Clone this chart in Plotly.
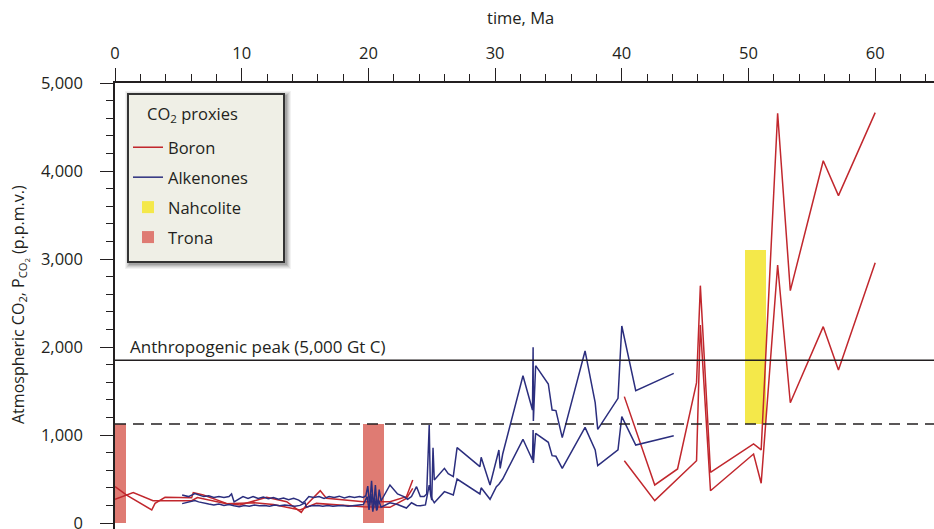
import plotly.graph_objects as go

# ---------------- data (age in Ma, CO2 in ppmv) ----------------
boron_hi_age = [0, 0.92, 2.9, 3.16, 3.95, 6.05, 6.18, 6.97, 8.8, 9.87, 11.97, 13.55, 14.7, 15.1,
                16.2, 16.7, 19.6, 21.7, 23.0, 23.5, None,
                40.2, 42.6, 44.4, 45.9, 46.2, 47.0, 50.4, 51.0, 52.3, 53.3, 55.9, 57.1, 60.0]
boron_hi_co2 = [413, 318, 148, 223, 292, 288, 345, 318, 223, 205, 292, 242, 120, 205,
                367, 280, 242, 242, 299, 489, None,
                1436, 432, 614, 1595, 2697, 576, 898, 830, 4656, 2640, 4117, 3720, 4663]

boron_lo_age = [0, 1.44, 3.0, 6.05, 6.5, 8.8, 11.0, 12.5, 14.6, 15.9, 19.6, 21.7, 23.0, 23.5, None,
                40.2, 42.6, 45.9, 46.2, 47.0, 50.4, 51.0, 52.3, 53.3, 55.9, 57.1, 60.0]
boron_lo_co2 = [269, 345, 253, 253, 290, 220, 230, 210, 148, 223, 186, 178, 280, 394, None,
                708, 254, 708, 2250, 367, 784, 451, 2932, 1367, 2231, 1739, 2958]

alk_hi_age = [5.3, 5.8, 6.3, 6.6, 7.0, 7.4, 7.8, 8.2, 8.6, 9.0, 9.2, 9.4, 9.8, 10.1, 10.5, 10.9,
              11.3, 11.7, 12.1, 12.5, 12.9, 13.3, 13.7, 14.1, 14.5, 14.8, 15.0, 15.3, 15.7, 16.1,
              16.5, 16.9, 17.3, 17.7, 18.1, 18.5, 18.9, 19.3, 19.6, 19.8, 19.95, 20.1, 20.25,
              20.4, 20.55, 20.7, 20.85, 21.0, 21.7, 22.3, 22.8, 23.1, 23.4, 23.8, 24.1, 24.4,
              24.6, 24.8, 24.9, 25.0, 25.1, 25.2, 26.0, 26.3, 26.7, 27.0, 28.8, 28.9, 29.6,
              30.1, 30.3, 30.4, 30.6, 32.2, 32.95, 33.0, 33.02, 33.2, 34.2, 34.5, 34.8, 35.3,
              37.1, 37.9, 38.1, 39.7, 40.0, 41.1, 44.1]
alk_hi_co2 = [318, 300, 335, 320, 300, 310, 290, 300, 290, 300, 330, 240, 280, 300, 280, 300,
              280, 295, 275, 290, 270, 285, 265, 280, 260, 230, 250, 300, 290, 300,
              280, 300, 290, 305, 285, 300, 290, 300, 290, 310, 420, 200, 480,
              160, 430, 150, 380, 250, 432, 330, 300, 270, 300, 413, 300, 300,
              330, 1114, 330, 260, 856, 489, 621, 560, 527, 856, 640, 746, 432,
              716, 830, 620, 784, 1674, 1284, 1996, 1159, 1788, 1580, 1284, 1277, 970,
              1955, 1368, 1064, 1417, 2239, 1504, 1701]

alk_lo_age = [5.3, 5.8, 6.3, 6.6, 7.0, 7.4, 7.8, 8.2, 8.6, 9.0, 9.4, 9.8, 10.2, 10.6, 11.0,
              11.4, 11.8, 12.2, 12.6, 13.0, 13.4, 13.8, 14.2, 14.6, 15.0, 15.1, 15.5, 16.0,
              16.4, 16.8, 17.2, 17.6, 18.0, 18.4, 18.8, 19.2, 19.6, 19.9, 20.05, 20.2, 20.35,
              20.5, 20.65, 20.8, 21.0, 21.7, 22.3, 23.0, 23.4, 23.8, 24.1, 24.5, 24.8, 25.0,
              25.2, 26.0, 26.7, 27.0, 28.8, 28.9, 29.6, 30.1, 30.3, 30.6, 32.2, 32.95, 33.0,
              33.02, 33.2, 34.2, 34.5, 34.8, 35.3, 37.1, 37.9, 38.1, 39.7, 40.0, 41.1, 44.1]
alk_lo_co2 = [220, 235, 255, 240, 225, 215, 205, 215, 200, 210, 195, 185, 200, 190, 205,
              195, 200, 190, 205, 195, 205, 200, 190, 200, 230, 180, 195, 200,
              190, 200, 190, 195, 200, 190, 195, 200, 210, 300, 150, 330, 130,
              280, 140, 260, 180, 230, 210, 170, 230, 200, 195, 205, 430, 280,
              230, 356, 318, 500, 330, 400, 269, 413, 440, 500, 951, 716, 1057,
              682, 1019, 917, 765, 758, 621, 1087, 830, 651, 830, 1208, 886, 992]

trona_start = [0.0, 19.6]
trona_end = [0.87, 21.2]
trona_top = [1125, 1125]

nahcolite_start = [49.7]
nahcolite_end = [51.4]
nahcolite_low = [1125]
nahcolite_high = [3100]

anthropogenic_peak = 1850
reference_level = 1125

x_ticks = [0, 10, 20, 30, 40, 50, 60]
y_ticks = [0, 1000, 2000, 3000, 4000, 5000]

# ---------------- colours / layout ----------------
RED = "#c1272d"
BLUE = "#2b2e7e"
TRONA = "#df7b73"
NAHC = "#f4e84a"
INK = "#231f20"
FONT = "Open Sans"
FS = 16.5

W, H = 934, 529
L, R, T, B = 115, 0, 83, 0
PW, PH = W - L - R, H - T - B


def px_x(px):
    return (px - L) / PW


def px_y(py):
    return (H - B - py) / PH


fig = go.Figure()

fig.add_trace(go.Bar(
    x=[(a + b) / 2 for a, b in zip(trona_start, trona_end)],
    width=[b - a for a, b in zip(trona_start, trona_end)],
    y=trona_top, base=[0] * len(trona_top),
    marker=dict(color=TRONA, line=dict(width=0)),
    name="Trona", legendrank=4, legendgroup="d"))

fig.add_trace(go.Bar(
    x=[(a + b) / 2 for a, b in zip(nahcolite_start, nahcolite_end)],
    width=[b - a for a, b in zip(nahcolite_start, nahcolite_end)],
    y=[h - l for h, l in zip(nahcolite_high, nahcolite_low)], base=nahcolite_low,
    marker=dict(color=NAHC, line=dict(width=0)),
    name="Nahcolite", legendrank=3, legendgroup="c"))

line_kw = dict(mode="lines", connectgaps=False)
fig.add_trace(go.Scatter(x=boron_hi_age, y=boron_hi_co2, name="Boron",
                         line=dict(color=RED, width=1.5),
                         legendrank=1, legendgroup="a", **line_kw))
fig.add_trace(go.Scatter(x=boron_lo_age, y=boron_lo_co2, name="Boron", showlegend=False,
                         line=dict(color=RED, width=1.5),
                         legendgroup="a", **line_kw))
fig.add_trace(go.Scatter(x=alk_hi_age, y=alk_hi_co2, name="Alkenones",
                         line=dict(color=BLUE, width=1.5),
                         legendrank=2, legendgroup="b", **line_kw))
fig.add_trace(go.Scatter(x=alk_lo_age, y=alk_lo_co2, name="Alkenones", showlegend=False,
                         line=dict(color=BLUE, width=1.5),
                         legendgroup="b", **line_kw))

shapes = []
# horizontal reference lines
shapes.append(dict(type="line", xref="paper", yref="y", x0=0, x1=1,
                   y0=anthropogenic_peak, y1=anthropogenic_peak,
                   line=dict(color=INK, width=1.5), layer="above"))
shapes.append(dict(type="line", xref="paper", yref="y", x0=0, x1=1,
                   y0=reference_level, y1=reference_level,
                   line=dict(color=INK, width=1.5, dash="11px,7px"), layer="above"))

# legend box with soft shadow
bx0, bx1, by0, by1 = 128, 284, 94, 262
for i, op in [(5, 0.05), (4, 0.06), (3, 0.08), (2, 0.1), (1, 0.12)]:
    shapes.append(dict(type="rect", xref="paper", yref="paper",
                       x0=px_x(bx0 - i + 2), x1=px_x(bx1 + i + 2),
                       y0=px_y(by1 + i + 2), y1=px_y(by0 - i + 2),
                       line=dict(width=0), fillcolor=f"rgba(0,0,0,{op})", layer="above"))
shapes.append(dict(type="rect", xref="paper", yref="paper",
                   x0=px_x(bx0), x1=px_x(bx1), y0=px_y(by1), y1=px_y(by0),
                   line=dict(color="#333333", width=2), fillcolor="#efefe6", layer="above"))

annotations = [
    dict(text="CO<sub>2</sub> proxies", x=px_x(145), y=px_y(114), xref="paper", yref="paper",
         xanchor="left", yanchor="middle", showarrow=False,
         font=dict(family=FONT, size=FS, color=INK)),
    dict(text="Anthropogenic peak (5,000 Gt C)", x=1.0, y=anthropogenic_peak,
         xref="x", yref="y", xanchor="left", yanchor="bottom", yshift=0, showarrow=False,
         font=dict(family=FONT, size=17, color=INK)),
    dict(text="time, Ma", x=px_x(520), y=px_y(18), xref="paper", yref="paper",
         xanchor="center", yanchor="middle", showarrow=False,
         font=dict(family=FONT, size=FS, color=INK)),
    dict(text="Atmospheric CO<sub>2</sub>, P<sub>CO<sub>2</sub></sub> (p.p.m.v.)",
         x=px_x(19), y=px_y(305), xref="paper", yref="paper", textangle=-90,
         xanchor="center", yanchor="middle", showarrow=False,
         font=dict(family=FONT, size=16, color=INK)),
]

fig.update_layout(
    width=W, height=H,
    margin=dict(l=L, r=R, t=T, b=B, pad=0, autoexpand=False),
    paper_bgcolor="white", plot_bgcolor="white",
    barmode="overlay", bargap=0,
    font=dict(family=FONT, size=FS, color=INK),
    shapes=shapes, annotations=annotations,
    showlegend=True,
    legend=dict(x=px_x(128), y=px_y(130), xanchor="left", yanchor="top",
                bgcolor="rgba(0,0,0,0)", borderwidth=0,
                font=dict(family=FONT, size=FS, color=INK),
                tracegroupgap=5.5, itemwidth=30, traceorder="grouped"),
    xaxis=dict(side="top", range=[0, (W - L) / 12.67], showgrid=False, zeroline=False,
               showline=True, linecolor=INK, linewidth=1.5, mirror=False, automargin=False,
               tickmode="array", tickvals=x_ticks, ticktext=[str(v) for v in x_ticks],
               ticks="outside", ticklen=13, tickwidth=1.2, tickcolor=INK,
               ticklabelstandoff=3,
               minor=dict(dtick=2, ticks="outside", ticklen=7, tickwidth=1.2, tickcolor=INK,
                          showgrid=False),
               tickfont=dict(family=FONT, size=FS, color=INK)),
    yaxis=dict(range=[-(H - B - 523) / 0.088, 5000], showgrid=False, zeroline=False,
               showline=True, linecolor=INK, linewidth=1.5, automargin=False,
               tickmode="array", tickvals=y_ticks, ticktext=[f"{v:,}" for v in y_ticks],
               ticks="outside", ticklen=13, tickwidth=1.2, tickcolor=INK,
               ticklabelstandoff=14, ticklabeloverflow="allow",
               minor=dict(dtick=200, ticks="outside", ticklen=7, tickwidth=1.2, tickcolor=INK,
                          showgrid=False),
               tickfont=dict(family=FONT, size=FS, color=INK)),
)

fig.write_html("out.html")
